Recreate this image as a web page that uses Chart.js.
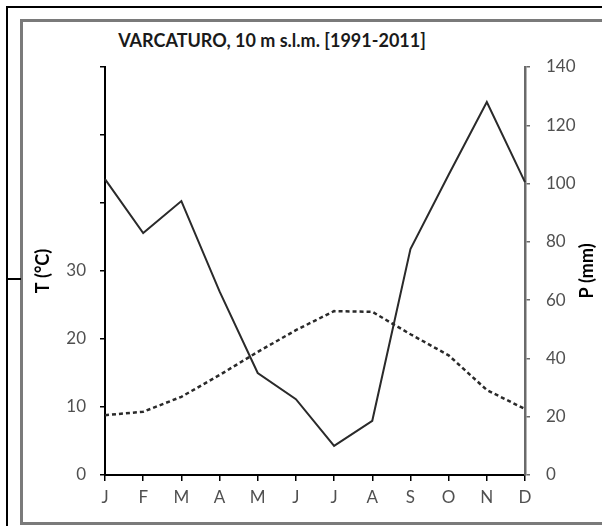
<!DOCTYPE html>
<html>
<head>
<meta charset="utf-8">
<script src="https://cdn.jsdelivr.net/npm/chart.js@4"></script>
<style>
  body { margin: 0; background: #fff; }
  #wrap { position: relative; width: 602px; height: 526px; overflow: hidden; }
  .frame-outer { position: absolute; left: 6px; top: 6px; width: 700px; height: 600px;
    border-left: 2px solid #000; border-top: 2px solid #000; }
  .frame-inner { position: absolute; left: 20px; top: 19px; width: 700px; height: 500px;
    border: 3px solid #7a7a7a; border-right: none; }
  .stub { position: absolute; left: 7px; top: 278px; width: 14px; height: 2px; background: #000; }
  #title { position: absolute; left: 0; width: 544px; top: 29px; text-align: center;
    font: bold 18px Lato, sans-serif; color: #1a1a1a; }
  canvas { position: absolute; left: 0; top: 0; }
</style>
</head>
<body>
<div id="wrap">
  <div class="frame-outer"></div>
  <div class="frame-inner"></div>
  <div class="stub"></div>
  <div id="title">VARCATURO, 10 m s.l.m. [1991-2011]</div>
  <canvas id="climaChart" width="602" height="526"></canvas>
</div>
<script>
  // mesi, precipitazioni (mm) e temperature (°C)
  const months = ["J", "F", "M", "A", "M", "J", "J", "A", "S", "O", "N", "D"];
  const precip = [101.5, 83, 94, 63, 35, 26, 10, 18.6, 77.5, 103, 128, 100.5];
  const temp = [8.8, 9.3, 11.5, 14.7, 18.1, 21.3, 24.1, 24.0, 20.7, 17.6, 12.5, 9.7];
  const tempMax = 60, tempLabelMax = 30;
  const precipMax = 140;

  Chart.defaults.font.family = "Lato, sans-serif";

  // titolo asse destro, ruotato come quello sinistro
  const rightTitle = {
    id: "rightTitle",
    afterDraw(chart) {
      const s = chart.scales.y1;
      const ctx = chart.ctx;
      ctx.save();
      ctx.translate(s.right - 15, (chart.chartArea.top + chart.chartArea.bottom) / 2);
      ctx.rotate(-Math.PI / 2);
      ctx.font = "bold 18px Lato, sans-serif";
      ctx.fillStyle = "#000";
      ctx.textAlign = "center";
      ctx.textBaseline = "middle";
      ctx.fillText("P (mm)", 0, 0);
      ctx.restore();
    },
  };

  const ctx = document.getElementById("climaChart");
  new Chart(ctx, {
    type: "line",
    data: {
      labels: months,
      datasets: [
        {
          label: "P (mm)",
          data: precip,
          yAxisID: "y1",
          borderColor: "#2a2a2a",
          borderWidth: 2,
          pointRadius: 0,
          tension: 0,
        },
        {
          label: "T (°C)",
          data: temp,
          yAxisID: "y",
          borderColor: "#2a2a2a",
          borderWidth: 2.5,
          borderDash: [4, 3],
          pointRadius: 0,
          tension: 0,
        },
      ],
    },
    plugins: [rightTitle],
    options: {
      responsive: false,
      animation: false,
      layout: { padding: { left: 0, right: 0, top: 67, bottom: 21 } },
      plugins: { legend: { display: false }, tooltip: { enabled: false } },
      scales: {
        x: {
          offset: false,
          grid: { drawOnChartArea: false, drawTicks: true, tickLength: 6, color: "#000", lineWidth: 1.5 },
          border: { display: true, color: "#000", width: 2 },
          ticks: { color: "#505050", font: { size: 17 }, padding: 6, autoSkip: false, maxRotation: 0 },
          afterFit(scale) { scale.height = 30; },
        },
        y: {
          position: "left",
          min: 0,
          max: tempMax,
          grid: { drawOnChartArea: false, drawTicks: true, tickLength: 5, color: "#000", lineWidth: 1.5 },
          border: { display: true, color: "#000", width: 2 },
          ticks: {
            stepSize: 10,
            color: "#505050",
            font: { size: 17 },
            padding: 14,
            callback: (v) => (v <= tempLabelMax ? v : ""),
          },
          title: { display: true, text: "T (°C)", color: "#000", font: { size: 18, weight: "bold" }, padding: { top: 32, bottom: 0 } },
          afterFit(scale) { scale.width = 105; },
        },
        y1: {
          position: "right",
          min: 0,
          max: precipMax,
          grid: { drawOnChartArea: false, drawTicks: true, tickLength: 5, color: "#6a6a6a", lineWidth: 1.5 },
          border: { display: true, color: "#6a6a6a", width: 2.5 },
          ticks: { stepSize: 20, color: "#505050", font: { size: 17 }, padding: 16 },
          afterFit(scale) { scale.width = 77; },
        },
      },
    },
  });
</script>
</body>
</html>
